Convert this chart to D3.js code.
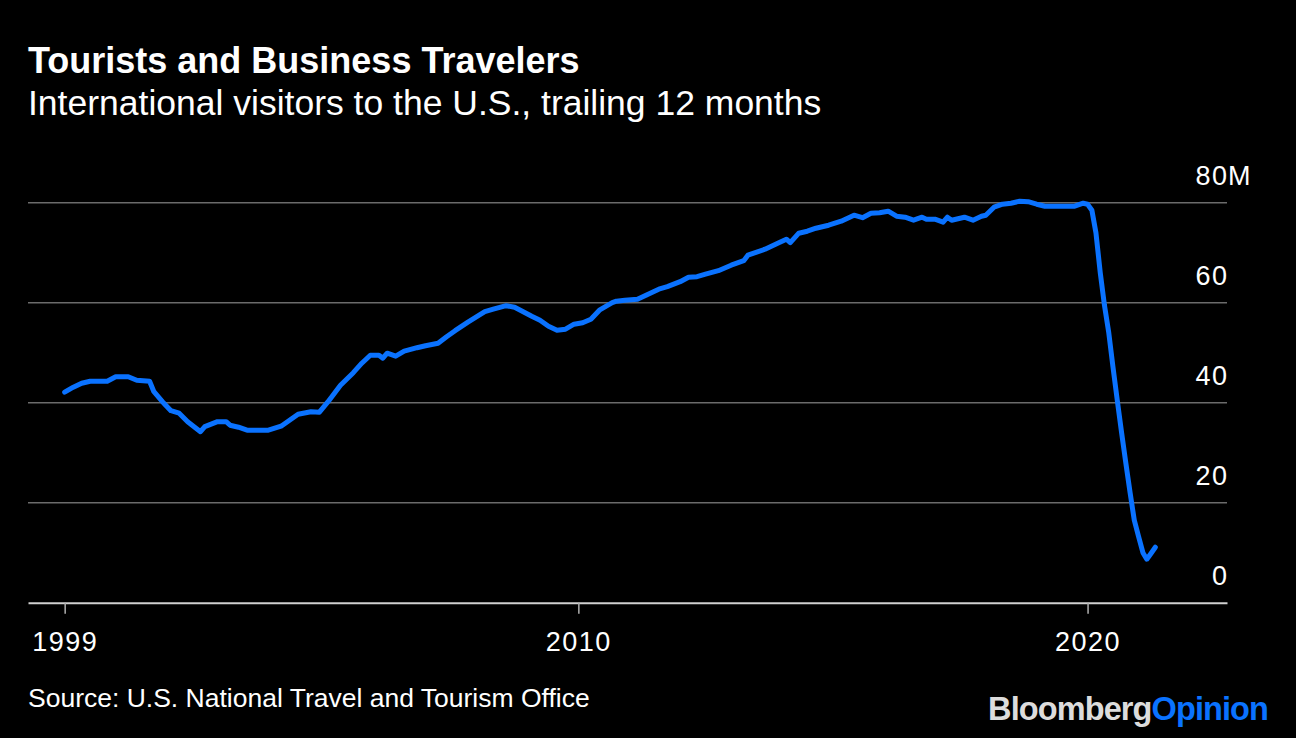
<!DOCTYPE html>
<html>
<head>
<meta charset="utf-8">
<script src="https://cdn.jsdelivr.net/npm/d3@7"></script>
<style>
  html, body { margin: 0; padding: 0; background: #000; }
  svg { display: block; }
  text { font-family: "Liberation Sans", Arial, Helvetica, sans-serif; fill: #fff; }
</style>
</head>
<body>
<div id="chart"></div>
<script>
// Monthly readings (trailing 12 months, millions of visitors)
const months = [
  '1999-12', '2000-02', '2000-04', '2000-06', '2000-10', '2000-12',
  '2001-03', '2001-05', '2001-08', '2001-09', '2001-11',
  '2002-01', '2002-03', '2002-05', '2002-08', '2002-09', '2002-12',
  '2003-02', '2003-03', '2003-05', '2003-07', '2003-12',
  '2004-03', '2004-05', '2004-07', '2004-10', '2004-12',
  '2005-02', '2005-05', '2005-08', '2005-10', '2005-12',
  '2006-02', '2006-03', '2006-04', '2006-06', '2006-08', '2006-11',
  '2007-01', '2007-04', '2007-06', '2007-08', '2007-11',
  '2008-03', '2008-05', '2008-08', '2008-10',
  '2009-02', '2009-04', '2009-06', '2009-08', '2009-10', '2009-12',
  '2010-02', '2010-04', '2010-06', '2010-09', '2010-10', '2010-12',
  '2011-03', '2011-05', '2011-08', '2011-10',
  '2012-01', '2012-03', '2012-05', '2012-07', '2012-10',
  '2013-01', '2013-04', '2013-05', '2013-09', '2013-12',
  '2014-02', '2014-03', '2014-05', '2014-07', '2014-09', '2014-12',
  '2015-03', '2015-06', '2015-08', '2015-10', '2015-12',
  '2016-02', '2016-04', '2016-06', '2016-08', '2016-10', '2016-11',
  '2017-01', '2017-03', '2017-04', '2017-05', '2017-08', '2017-10', '2017-12',
  '2018-01', '2018-03', '2018-05', '2018-07', '2018-09', '2018-11',
  '2019-01', '2019-03', '2019-10', '2019-12',
  '2020-01', '2020-02', '2020-03', '2020-04', '2020-05', '2020-06',
  '2020-07', '2020-08', '2020-09', '2020-10', '2020-11', '2020-12',
  '2021-01', '2021-02', '2021-03', '2021-04', '2021-05'
];
const visitors = [
  42.1, 43.1, 43.9, 44.3, 44.3, 45.2,
  45.2, 44.5, 44.3, 42.2, 40.2,
  38.4, 37.9, 36.2, 34.2, 35.2, 36.2,
  36.2, 35.5, 35.1, 34.5, 34.5,
  35.3, 36.5, 37.7, 38.2, 38.1,
  40.2, 43.5, 46.0, 47.9, 49.5,
  49.5, 48.9, 49.9, 49.3, 50.3, 51.0,
  51.4, 51.9, 53.2, 54.4, 56.1,
  58.2, 58.7, 59.4, 59.1,
  57.3, 56.5, 55.3, 54.5, 54.7, 55.7,
  56.0, 56.7, 58.5, 60.0, 60.3, 60.5,
  60.7, 61.5, 62.7, 63.2,
  64.2, 65.1, 65.2, 65.7, 66.4,
  67.5, 68.4, 69.5, 70.7, 71.9,
  72.7, 72.0, 73.9, 74.3, 74.9, 75.5,
  76.3, 77.5, 77.0, 77.9, 78.0,
  78.3, 77.3, 77.1, 76.5, 77.1, 76.7,
  76.7, 76.1, 77.1, 76.5, 77.1, 76.5, 77.3,
  77.5, 79.1, 79.7, 79.9, 80.3, 80.2,
  79.7, 79.3, 79.3, 79.9,
  79.7, 78.5, 74.0, 66.0, 59.5, 54.0,
  47.2, 40.5, 34.0, 28.0, 22.0, 16.5,
  13.2, 10.0, 8.7, 9.9, 11.1
];

const yTicks = [0, 20, 40, 60, 80];
const xTickMonths = ['1999-12', '2010-01', '2020-01'];
const xTickLabels = ['1999', '2010', '2020'];
const xDomain = ['1999-03-13', '2022-09-27'];

const W = 1296, H = 738;
const plot = { left: 28, right: 1227, top: 202.7, bottom: 602.7 };

const parseMonth = d3.timeParse('%Y-%m');
const parseDay = d3.timeParse('%Y-%m-%d');
const data = months.map((m, i) => ({ date: parseMonth(m), value: visitors[i] }));

const svg = d3.select('#chart').append('svg')
  .attr('width', W)
  .attr('height', H);

svg.append('rect').attr('width', W).attr('height', H).attr('fill', '#000');

const x = d3.scaleTime().domain(xDomain.map(parseDay)).range([plot.left, plot.right]);
const y = d3.scaleLinear().domain([0, 80]).range([plot.bottom, plot.top]);

// titles
svg.append('text').attr('x', 28).attr('y', 73)
  .style('font-size', '36px').style('font-weight', 'bold')
  .text('Tourists and Business Travelers');
svg.append('text').attr('x', 28).attr('y', 115)
  .style('font-size', '35.5px')
  .text('International visitors to the U.S., trailing 12 months');

// gridlines
svg.append('g').selectAll('line')
  .data(yTicks.filter(d => d > 0))
  .join('line')
  .attr('x1', plot.left).attr('x2', plot.right)
  .attr('y1', d => y(d)).attr('y2', d => y(d))
  .attr('stroke', '#6b6b6b').attr('stroke-width', 1.5);

// y labels above gridlines
svg.append('g').selectAll('text')
  .data(yTicks)
  .join('text')
  .attr('x', plot.right + 1.5)
  .attr('y', d => y(d) - 18)
  .attr('text-anchor', 'end')
  .style('font-size', '27px')
  .style('letter-spacing', '1.5px')
  .text(d => d);
svg.append('text')
  .attr('x', plot.right + 1).attr('y', y(80) - 18)
  .style('font-size', '27px')
  .text('M');

// x axis
const xAxis = d3.axisBottom(x)
  .tickValues(xTickMonths.map(parseMonth))
  .tickFormat((d, i) => xTickLabels[i])
  .tickSize(11)
  .tickPadding(18)
  .tickSizeOuter(0);

const gx = svg.append('g')
  .attr('transform', `translate(0,${plot.bottom})`)
  .call(xAxis);
gx.select('.domain').attr('stroke', '#d0d0d0').attr('stroke-width', 2);
gx.selectAll('.tick line').attr('stroke', '#b0b0b0').attr('stroke-width', 1.5);
gx.selectAll('.tick text')
  .style('font-size', '27px')
  .style('letter-spacing', '1.5px')
  .style('font-family', '"Liberation Sans", Arial, Helvetica, sans-serif')
  .attr('fill', '#fff');

// line
const line = d3.line()
  .x(d => x(d.date))
  .y(d => y(d.value));

svg.append('path')
  .datum(data)
  .attr('fill', 'none')
  .attr('stroke', '#0a72ff')
  .attr('stroke-width', 5)
  .attr('stroke-linejoin', 'round')
  .attr('stroke-linecap', 'round')
  .attr('d', line);

// footer
svg.append('text').attr('x', 28).attr('y', 707)
  .style('font-size', '26.5px')
  .text('Source: U.S. National Travel and Tourism Office');

const logo = svg.append('text').attr('x', 1268).attr('y', 720)
  .attr('text-anchor', 'end')
  .style('font-size', '32.5px').style('font-weight', 'bold')
  .style('letter-spacing', '-0.9px');
logo.append('tspan').style('fill', '#dcdcdc').text('Bloomberg');
logo.append('tspan').style('fill', '#0a72ff').text('Opinion');
</script>
</body>
</html>
